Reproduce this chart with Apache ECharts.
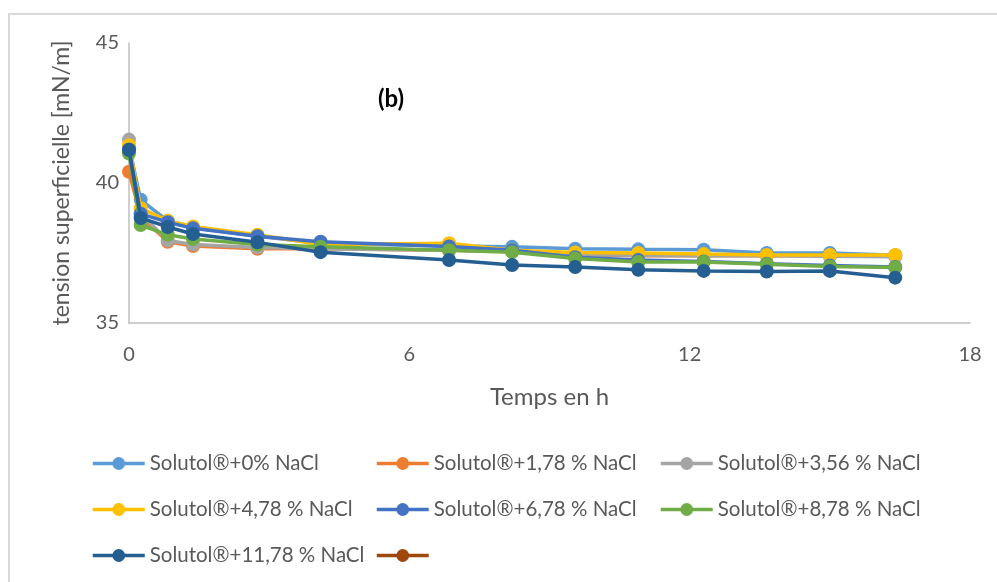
<!DOCTYPE html>
<html>
<head>
<meta charset="utf-8">
<script src="https://cdn.jsdelivr.net/npm/echarts@6/dist/echarts.min.js"></script>
<style>
  html, body { margin: 0; padding: 0; background: #fff; }
  #chart { width: 997px; height: 582px; }
</style>
</head>
<body>
<div id="chart"></div>
<script>
// temps en heures
var timeH = [0, 0.25, 0.83, 1.37, 2.75, 4.1, 6.85, 8.2, 9.55, 10.9, 12.3, 13.65, 15.0, 16.4];

var nacl0    = [41.3, 39.4, 38.65, 38.4, 38.1, 37.85, 37.75, 37.72, 37.65, 37.63, 37.62, 37.5, 37.5, 37.42];
var nacl178  = [40.4, 38.8, 37.9, 37.75, 37.65, 37.65, 37.6, 37.55, 37.45, 37.4, 37.4, 37.4, 37.4, 37.4];
var nacl356  = [41.55, 38.9, 37.95, 37.8, 37.7, 37.65, 37.6, 37.55, 37.45, 37.42, 37.4, 37.4, 37.38, 37.37];
var nacl478  = [41.35, 39.1, 38.65, 38.45, 38.15, 37.8, 37.85, 37.6, 37.52, 37.5, 37.46, 37.43, 37.43, 37.43];
var nacl678  = [41.2, 38.9, 38.6, 38.38, 38.1, 37.9, 37.73, 37.6, 37.35, 37.25, 37.2, 37.12, 37.05, 37.0];
var nacl878  = [41.05, 38.5, 38.15, 38.0, 37.8, 37.72, 37.6, 37.53, 37.3, 37.18, 37.18, 37.1, 37.02, 36.98];
var nacl1178 = [41.18, 38.75, 38.43, 38.18, 37.88, 37.53, 37.25, 37.07, 37.0, 36.9, 36.86, 36.84, 36.86, 36.62];

var names = ['Solutol®+0% NaCl', 'Solutol®+1,78 % NaCl', 'Solutol®+3,56 % NaCl',
             'Solutol®+4,78 % NaCl', 'Solutol®+6,78 % NaCl', 'Solutol®+8,78 % NaCl',
             'Solutol®+11,78 % NaCl', ' '];
var colors = ['#5B9BD5', '#ED7D31', '#A5A5A5', '#FFC000', '#4472C4', '#70AD47', '#255E91', '#9E480E'];
var values = [nacl0, nacl178, nacl356, nacl478, nacl678, nacl878, nacl1178, []];

var font = 'Lato, "Open Sans", sans-serif';

function pairs(arr) {
    var out = [];
    for (var i = 0; i < arr.length; i++) {
        out.push([timeH[i], arr[i]]);
    }
    return out;
}

var series = [];
for (var k = 0; k < names.length; k++) {
    series.push({
        name: names[k],
        type: 'line',
        data: pairs(values[k]),
        symbol: 'circle',
        symbolSize: 14,
        showSymbol: true,
        color: colors[k],
        lineStyle: { width: 3.5, color: colors[k] },
        itemStyle: { color: colors[k] },
        emphasis: { disabled: true },
        animation: false,
        z: 2 + k
    });
}

function legendCol(left, data) {
    return {
        orient: 'vertical',
        left: left,
        top: 453,
        padding: 0,
        itemWidth: 52,
        itemHeight: 16,
        itemGap: 25,
        data: data,
        lineStyle: { width: 3.5 },
        textStyle: { fontFamily: font, fontSize: 20.5, lineHeight: 20, color: '#595959' },
        selectedMode: false
    };
}

var chart = echarts.init(document.getElementById('chart'));
chart.setOption({
    backgroundColor: '#fff',
    animation: false,
    grid: { left: 129, right: 27, top: 43, bottom: 259 },
    graphic: [
        { type: 'rect', shape: { x: 9, y: 14, width: 1000, height: 600 },
          style: { fill: 'none', stroke: '#D9D9D9', lineWidth: 2 }, silent: true },
        { type: 'text', left: 378, top: 87,
          style: { text: '(b)', fontFamily: font, fontSize: 24, fontWeight: 'bold', fill: '#000' } }
    ],
    legend: [
        legendCol(91, [names[0], names[3], names[6]]),
        legendCol(375, [names[1], names[4], names[7]]),
        legendCol(659, [names[2], names[5]])
    ],
    xAxis: {
        type: 'value',
        min: 0, max: 18, interval: 6,
        name: 'Temps en h',
        nameLocation: 'middle',
        nameGap: 62,
        nameTextStyle: { fontFamily: font, fontSize: 24, color: '#595959' },
        axisLine: { show: true, lineStyle: { color: '#BFBFBF', width: 1.5 } },
        axisTick: { show: false },
        splitLine: { show: false },
        axisLabel: { margin: 22, fontFamily: font, fontSize: 20, color: '#595959' }
    },
    yAxis: {
        type: 'value',
        min: 35, max: 45, interval: 5,
        name: 'tension superficielle [mN/m]',
        nameLocation: 'middle',
        nameGap: 56,
        nameRotate: 90,
        nameTextStyle: { fontFamily: font, fontSize: 23, color: '#595959' },
        axisLine: { show: true, lineStyle: { color: '#BFBFBF', width: 1.5 } },
        axisTick: { show: false },
        splitLine: { show: false },
        axisLabel: { margin: 10, fontFamily: font, fontSize: 20, color: '#595959' }
    },
    series: series
});
</script>
</body>
</html>
